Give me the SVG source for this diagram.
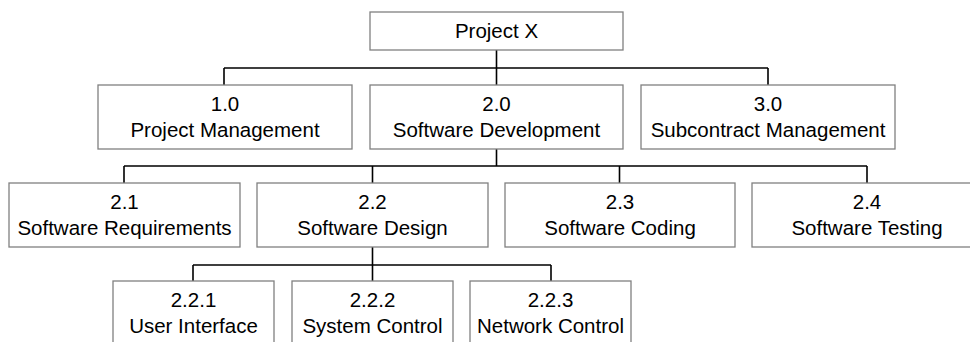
<svg xmlns="http://www.w3.org/2000/svg" width="970" height="342" viewBox="0 0 970 342">
<style>
.box{fill:#fff;stroke:#808080;stroke-width:1.3}
.t{font-family:"Liberation Sans",Arial,sans-serif;font-size:20.5px;fill:#000;text-anchor:middle}
.c{fill:none;stroke:#000;stroke-width:1.6}
</style>
<rect width="970" height="342" fill="#fff"/>
<g id="connectors" class="c">
<path d="M496.5 50V85M224 68H768M224 68V85M768 68V85"/>
<path d="M496.5 149V166M124 166H867M124 166V183M372.5 166V183M619.5 166V183M867 166V183"/>
<path d="M372.5 247V281M193 265H551M193 265V281M551 265V281"/>
</g>
<g id="n0"><rect class="box" x="370" y="12" width="253" height="38"/><text class="t" x="496.5" y="38">Project X</text></g>
<g id="n1"><rect class="box" x="98" y="85" width="254" height="64"/><text class="t" x="225" y="111">1.0</text><text class="t" x="225" y="137">Project Management</text></g>
<g id="n2"><rect class="box" x="370" y="85" width="253" height="64"/><text class="t" x="496.5" y="111">2.0</text><text class="t" x="496.5" y="137">Software Development</text></g>
<g id="n3"><rect class="box" x="641" y="85" width="254" height="64"/><text class="t" x="768" y="111">3.0</text><text class="t" x="768" y="137">Subcontract Management</text></g>
<g id="n21"><rect class="box" x="9" y="183" width="231" height="64"/><text class="t" x="124.5" y="209">2.1</text><text class="t" x="124.5" y="235">Software Requirements</text></g>
<g id="n22"><rect class="box" x="257" y="183" width="231" height="64"/><text class="t" x="372.5" y="209">2.2</text><text class="t" x="372.5" y="235">Software Design</text></g>
<g id="n23"><rect class="box" x="505" y="183" width="230" height="64"/><text class="t" x="620" y="209">2.3</text><text class="t" x="620" y="235">Software Coding</text></g>
<g id="n24"><rect class="box" x="752" y="183" width="230" height="64"/><text class="t" x="867" y="209">2.4</text><text class="t" x="867" y="235">Software Testing</text></g>
<g id="n221"><rect class="box" x="113" y="281" width="161" height="64"/><text class="t" x="193.5" y="307">2.2.1</text><text class="t" x="193.5" y="333">User Interface</text></g>
<g id="n222"><rect class="box" x="292" y="281" width="161" height="64"/><text class="t" x="372.5" y="307">2.2.2</text><text class="t" x="372.5" y="333">System Control</text></g>
<g id="n223"><rect class="box" x="470" y="281" width="161" height="64"/><text class="t" x="550.5" y="307">2.2.3</text><text class="t" x="550.5" y="333">Network Control</text></g>
</svg>
